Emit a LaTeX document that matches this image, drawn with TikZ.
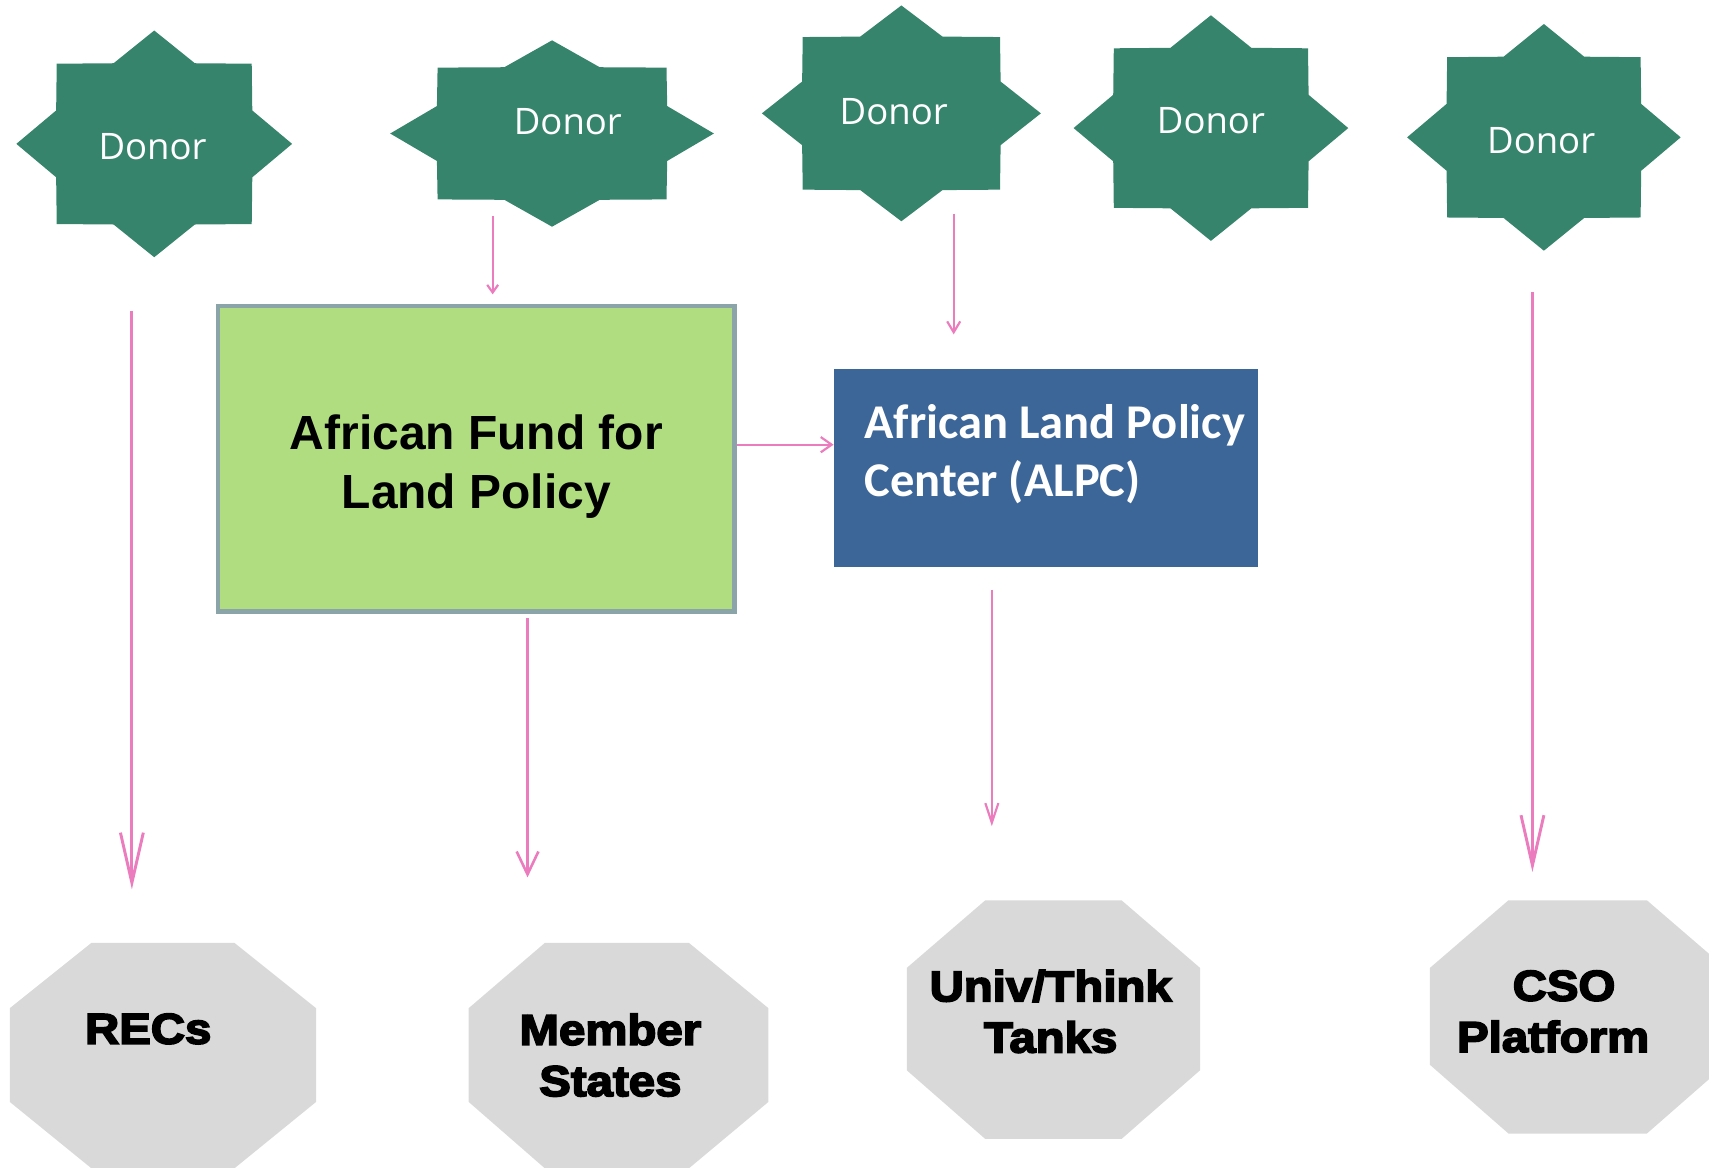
\documentclass[tikz,border=0pt]{standalone}
\usepackage{fontspec}
\usetikzlibrary{arrows.meta}
\newfontfamily\donorfont{Open Sans}
\newfontfamily\fundfont{Liberation Sans}
\newfontfamily\alpcfont{Carlito}
\newfontfamily\octfont[BoldFeatures={FakeBold=4, FakeStretch=1.1}]{Liberation Sans}
\definecolor{donorgreen}{RGB}{54,132,108}
\definecolor{fundgreen}{RGB}{176,221,128}
\definecolor{fundedge}{RGB}{138,164,170}
\definecolor{alpcblue}{RGB}{60,102,152}
\definecolor{octgray}{RGB}{217,217,217}
\definecolor{linkpink}{RGB}{235,125,190}
\tikzset{
  donortext/.style={text=white, inner sep=0pt, font={\donorfont\fontsize{33.5}{40}\selectfont}},
  fundbox/.style={draw=fundedge, line width=3.9pt, fill=fundgreen, minimum width=474pt,
    minimum height=280pt, inner sep=0pt},
  fundtext/.style={align=center, inner sep=0pt, font={\fundfont\bfseries\fontsize{44}{54}\selectfont}},
  alpcbox/.style={fill=alpcblue, minimum width=389pt, minimum height=181pt, inner sep=0pt},
  alpctext/.style={text=white, align=left, inner sep=0pt, font={\alpcfont\bfseries\fontsize{44.5}{53}\selectfont}},
  octtext/.style={align=center, inner sep=0pt, font={\octfont\bfseries\fontsize{39.5}{47}\selectfont}},
  link/.style={draw=linkpink, line width=2pt},
  bigtip/.style={line width=2.7pt, -{Straight Barb[length=46pt, width=21pt]}}
}
\begin{document}
\begin{tikzpicture}[x=1pt, y=-1pt]
            \useasboundingbox (0, 0) rectangle (1568, 1071);
            % donors
            \foreach \n/\cx/\cy/\a/\b in {1/141.5/132/126.5/104, 2/506.5/122.5/148.5/85.5,
                3/827/104/128/99, 4/1111/117.5/126/103.5, 5/1416.5/126/125.5/104}
                \fill[donorgreen, shift={(\cx, \cy)}, xscale=\a, yscale=\b] (0:1)
                    \foreach \k in {0,...,7} {-- (\k*45+22.5:0.77) -- (\k*45+45:1)} -- cycle;
            \node[donortext] (d1) at (140, 135) {Donor};
            \node[donortext] (d2) at (521, 112) {Donor};
            \node[donortext] (d3) at (820, 102) {Donor};
            \node[donortext] (d4) at (1111, 111) {Donor};
            \node[donortext] (d5) at (1414, 129) {Donor};
            % boxes
            \node[fundbox] (fund) at (437, 421) {};
            \node[fundtext] (fundtxt) at (437, 428) {African Fund for\\Land Policy};
            \node[alpcbox] (alpc) at (959.5, 429.5) {};
            \node[alpctext, anchor=west] (alpctxt) at (793, 417) {African Land Policy\\Center (ALPC)};
            % receivers
            \fill[octgray] (84, 865) -- (215, 865) -- (290, 925) -- (290, 1011) -- (215, 1072)
                -- (84, 1072) -- (9, 1011) -- (9, 925) -- cycle;
            \fill[octgray] (500, 865) -- (632, 865) -- (705, 925) -- (705, 1011) -- (632, 1072)
                -- (500, 1072) -- (430, 1011) -- (430, 925) -- cycle;
            \fill[octgray] (904, 826) -- (1029, 826) -- (1101, 888) -- (1101, 982) -- (1029, 1045)
                -- (904, 1045) -- (832, 982) -- (832, 888) -- cycle;
            \fill[octgray] (1384, 826) -- (1511, 826) -- (1583, 888) -- (1583, 977) -- (1511, 1040)
                -- (1384, 1040) -- (1312, 977) -- (1312, 888) -- cycle;
            \coordinate (o1) at (150, 865);
            \coordinate (o2) at (566, 865);
            \coordinate (o3) at (966, 826);
            \coordinate (o4) at (1447, 826);
            \node[octtext] (recs) at (136, 944) {RECs};
            \node[octtext] (members) at (560, 968) {Member\\States};
            \node[octtext] (univ) at (964, 928) {Univ/Think\\Tanks};
            \node[octtext] (cso) at (1425, 928) {\hspace*{20pt}CSO\\Platform};
            % arrows
            \coordinate (a1) at (121, 285);
            \coordinate (a2) at (452, 198);
            \coordinate (a3) at (875, 196);
            \coordinate (a4) at (1406, 268);
            \coordinate (a5) at (676, 408);
            \coordinate (a6) at (484, 567);
            \coordinate (a7) at (910, 541);
            \draw[link, bigtip, shorten >=49pt] (a1) -- (a1 |- o1);
            \draw[link, -{Straight Barb[length=7pt, width=10pt]}, shorten >=9pt] (a2) -- (a2 |- fund.north);
            \draw[link, -{Straight Barb[length=10pt, width=12pt]}, shorten >=32pt] (a3) -- (a3 |- alpc.north);
            \draw[link, bigtip, shorten >=26pt] (a4) -- (a4 |- o4);
            \draw[link, -{Straight Barb[length=10pt, width=14pt]}] (a5) -- (a5 -| alpc.west);
            \draw[link, line width=2.4pt, -{Straight Barb[length=21pt, width=20pt]}, shorten >=60pt] (a6) -- (a6 |- o2);
            \draw[link, -{Straight Barb[length=18pt, width=12pt]}, shorten >=68pt] (a7) -- (a7 |- o3);
        \end{tikzpicture}
\end{document}
